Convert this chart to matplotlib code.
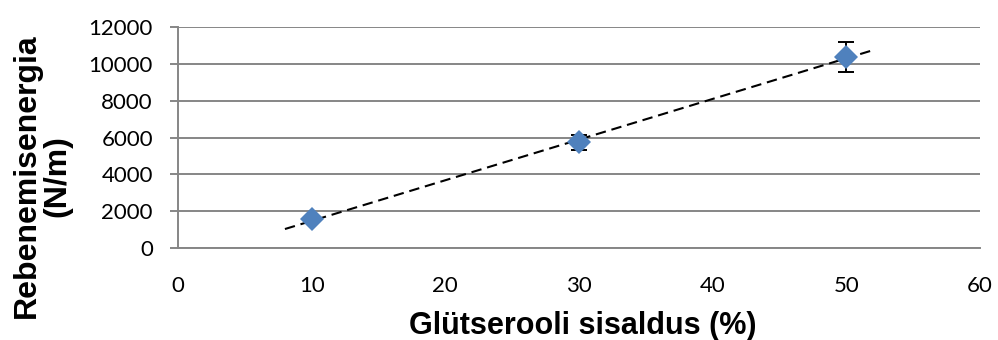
import numpy as np
import matplotlib
matplotlib.use("Agg")
import matplotlib.pyplot as plt

# Data
gluten_pct = [10, 30, 50]
tear_energy = [1550, 5730, 10380]
tear_err = [100, 420, 800]

x_ticks = [0, 10, 20, 30, 40, 50, 60]
y_ticks = [0, 2000, 4000, 6000, 8000, 10000, 12000]

# Linear trendline, extended 2 units each side like Excel
slope, intercept = np.polyfit(gluten_pct, tear_energy, 1)
trend_x = np.array([min(gluten_pct) - 2, max(gluten_pct) + 2])
trend_y = slope * trend_x + intercept

fig = plt.figure(figsize=(9.98, 3.4), dpi=100)
ax = fig.add_axes([178 / 998, 1 - 248 / 340, (980 - 178) / 998, (248 - 27) / 340])

grid_col = "#868686"
ax.set_axisbelow(True)
ax.grid(axis="y", color=grid_col, linewidth=1.4)

ax.plot(trend_x, trend_y, linestyle=(0, (5, 2.8)), color="black", linewidth=1.5, zorder=2)
ax.errorbar(gluten_pct, tear_energy, yerr=tear_err, fmt="none", ecolor="black",
            elinewidth=1.4, capsize=5.5, capthick=1.4, zorder=3)
ax.plot(gluten_pct, tear_energy, linestyle="none", marker="D", markersize=12.5,
        color="#4F81BD", markeredgewidth=0, zorder=4)

ax.set_xlim(0, 60)
ax.set_ylim(0, 12000)
ax.set_xticks(x_ticks)
ax.set_yticks(y_ticks)

for s in ["top", "right"]:
    ax.spines[s].set_visible(False)
for s in ["left", "bottom"]:
    ax.spines[s].set_color(grid_col)
    ax.spines[s].set_linewidth(1.4)

ax.tick_params(axis="y", length=6, width=1.4, color=grid_col, pad=12)
ax.tick_params(axis="x", length=0, pad=20)
for lbl in ax.get_xticklabels() + ax.get_yticklabels():
    lbl.set_fontfamily("Lato")
    lbl.set_fontsize(16)
    lbl.set_color("black")

fig.text(42 / 998, 1 - 176 / 340, "Rebenemisenergia\n(N/m)", rotation=90,
         ha="center", va="center", multialignment="center",
         fontsize=23, fontweight="bold", family="Liberation Sans", linespacing=1.05)
fig.text(583 / 998, 1 - 326 / 340, "Glütserooli sisaldus (%)",
         ha="center", va="center", fontsize=22, fontweight="bold",
         family="Liberation Sans")

plt.savefig("out.png", dpi=100)
